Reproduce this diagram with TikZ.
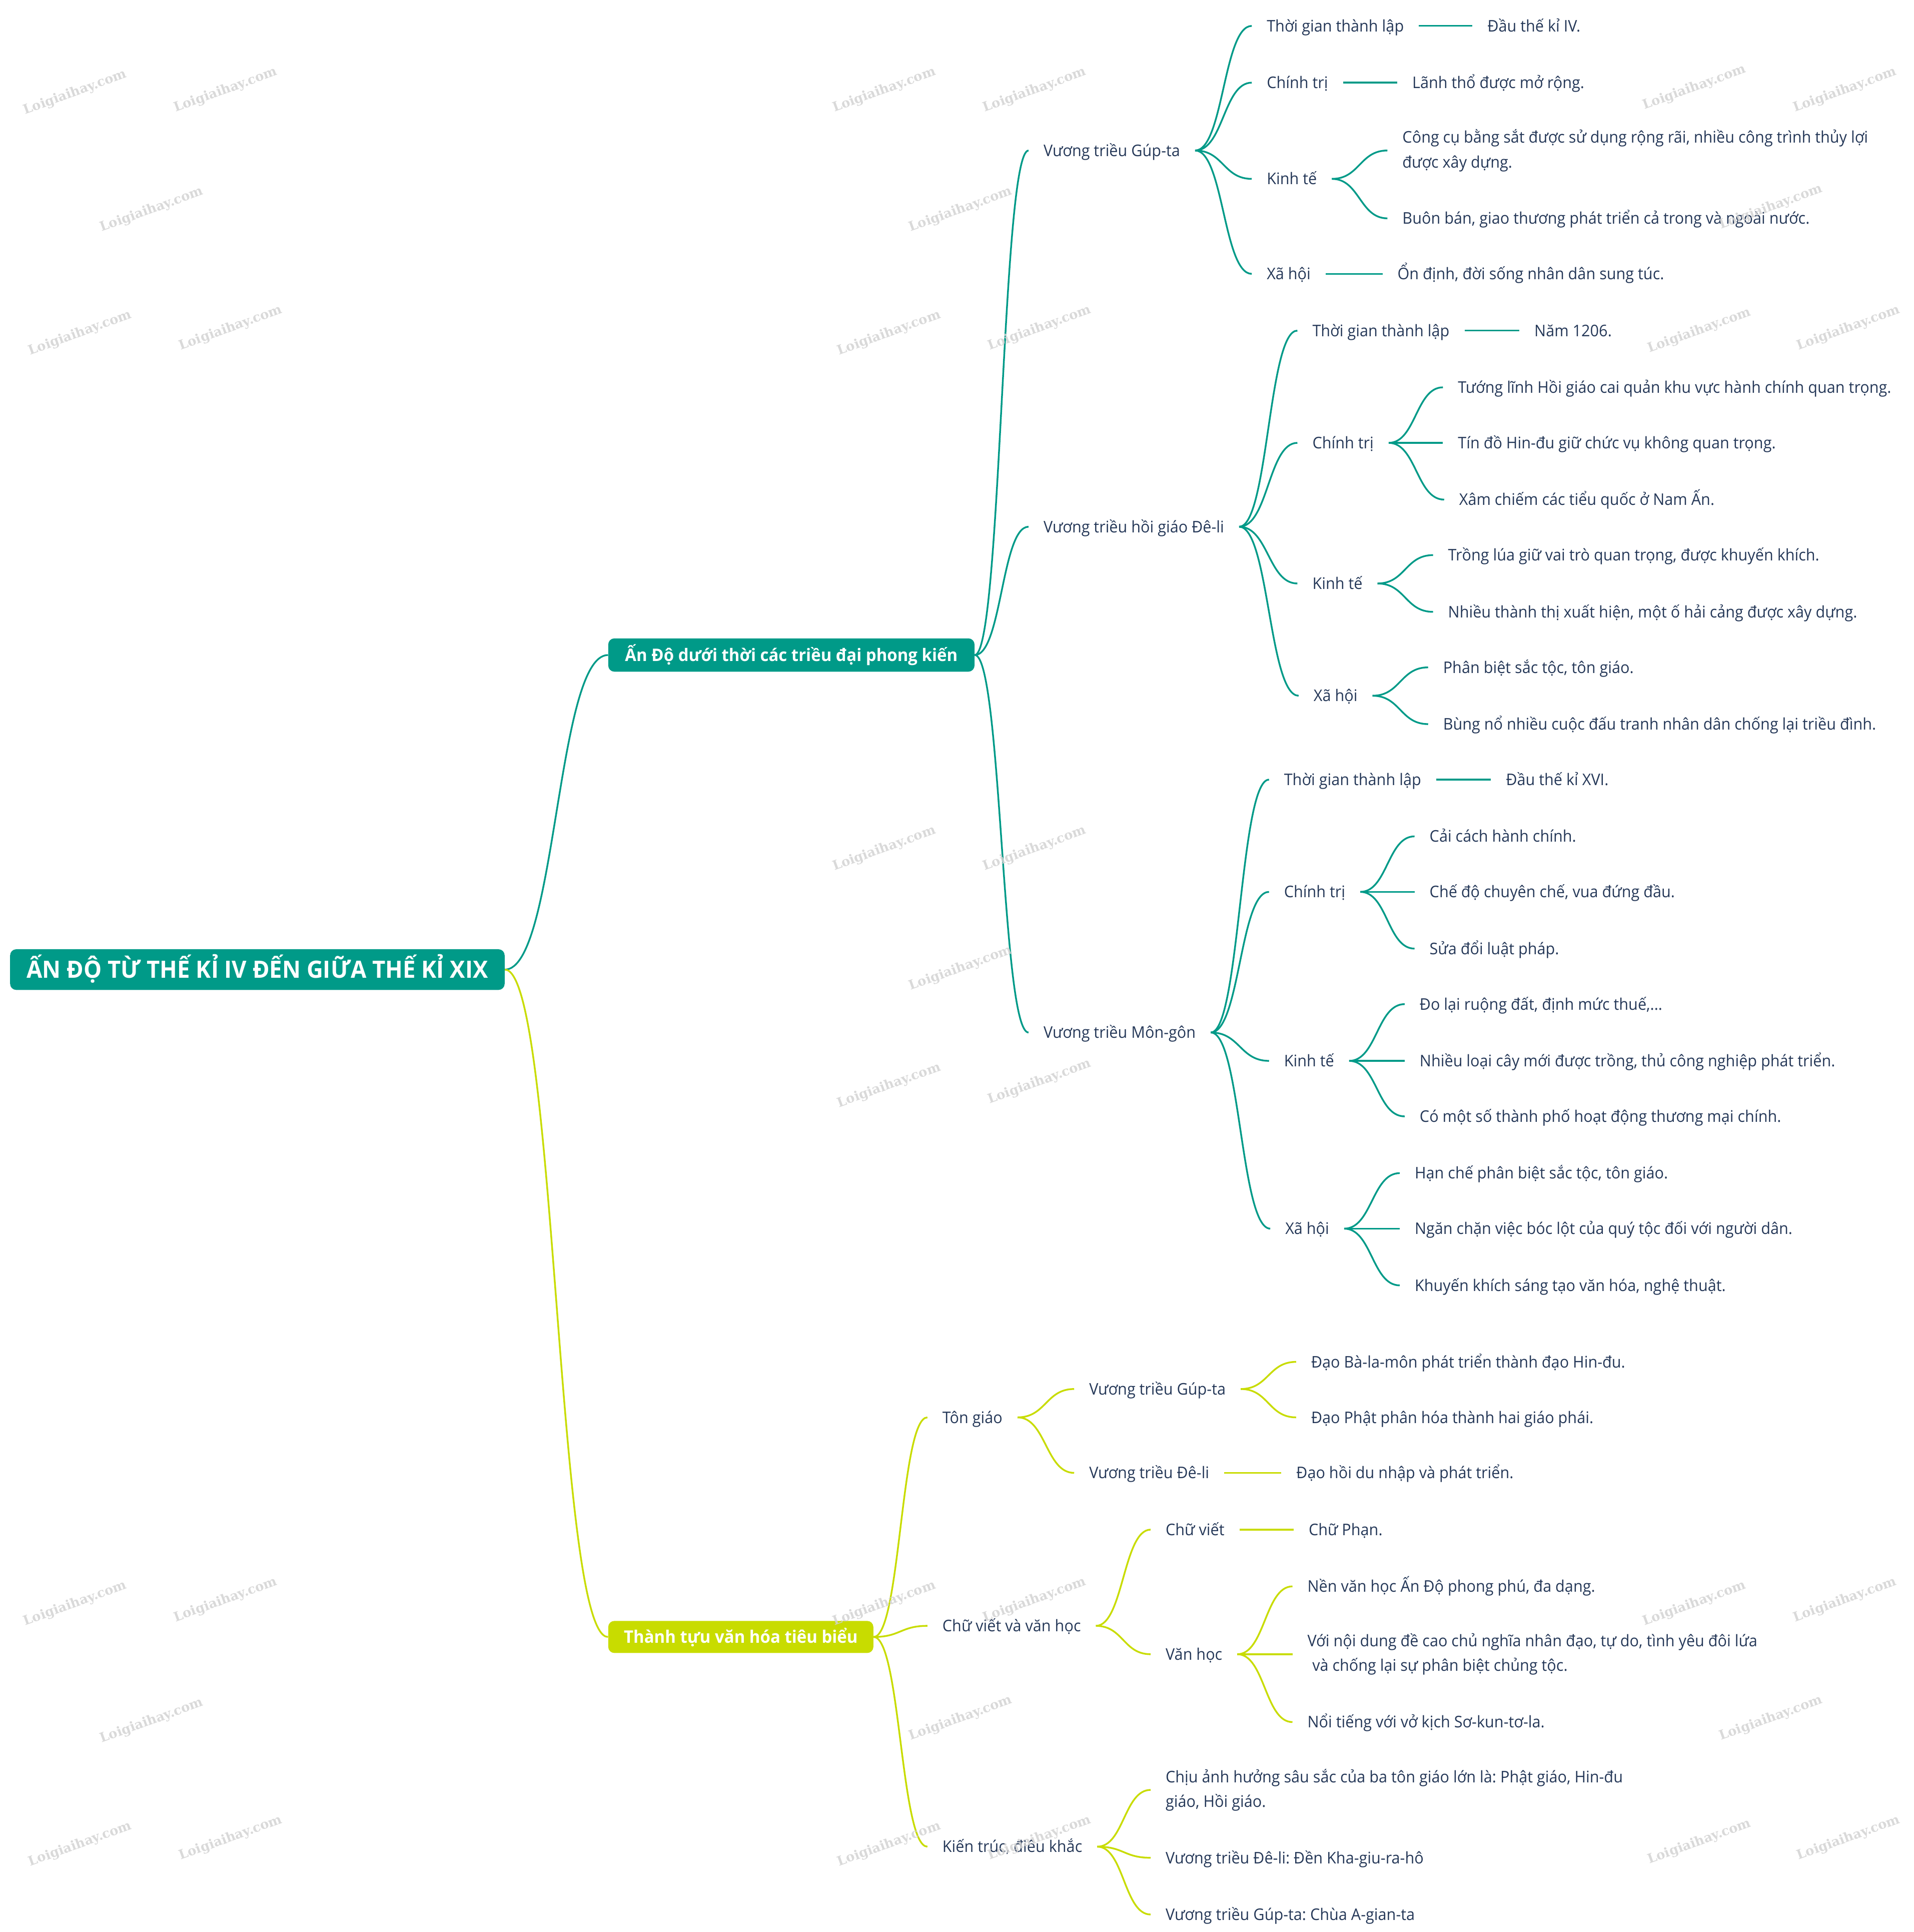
\documentclass[tikz,border=0pt]{standalone}
\usepackage{fontspec}
\setmainfont{Open Sans}[FakeStretch=0.955]
\newfontfamily\wmfont{DejaVu Serif}
\usetikzlibrary{calc}
\definecolor{teal1}{HTML}{009A88}
\definecolor{lime1}{HTML}{C8DC00}
\definecolor{ink}{HTML}{253858}
\definecolor{wmc}{HTML}{D2D2D2}
\frenchspacing
\newcommand\mainsz{\fontsize{13}{20}\selectfont}
\newcommand\mmc[3]{\draw[#1] let \p1=(#2), \p2=(#3) in (\p1) .. controls ({0.5*\x1+0.5*\x2},\y1) and ({0.5*\x1+0.5*\x2},\y2) .. (\p2);}
\tikzset{
  leaf/.style={anchor=west, inner xsep=12pt, inner ysep=0pt, text=ink, font=\mainsz, text height=10.3pt, text depth=1pt},
  multi/.style={anchor=west, inner xsep=12pt, inner ysep=0pt, text=ink, font=\mainsz, align=left},
  tl/.style={draw=teal1, line width=1.4pt},
  ll/.style={draw=lime1, line width=1.4pt},
  box/.style={anchor=west, rounded corners=5pt, inner sep=0pt, text=white},
  wmk/.style={rotate=20, text=wmc, opacity=0.85, font=\wmfont\bfseries\fontsize{10.5}{11}\selectfont}
}
\begin{document}
\begin{tikzpicture}[x=1pt,y=-1pt]
\useasboundingbox (0,0) rectangle (1552,1566.2);
% main boxes
\node[box, fill=teal1, minimum width=401pt, minimum height=33pt, font=\bfseries\fontsize{19.3}{22}\selectfont, text height=13.6pt, text depth=0pt] (root) at (8,786) {ẤN ĐỘ TỪ THẾ KỈ IV ĐẾN GIỮA THẾ KỈ XIX};
\node[box, fill=teal1, minimum width=297pt, minimum height=27pt, font=\bfseries\fontsize{14}{16}\selectfont, text height=10pt, text depth=0pt] (b2) at (493,531) {Ấn Độ dưới thời các triều đại phong kiến};
\node[box, fill=lime1, minimum width=215pt, minimum height=26pt, font=\bfseries\fontsize{14}{16}\selectfont, text height=10pt, text depth=0pt] (b3) at (493,1327) {Thành tựu văn hóa tiêu biểu};
% dynasties
\node[leaf] (g) at (834,122) {Vương triều Gúp-ta};
\node[leaf] (d) at (834,427) {Vương triều hồi giáo Đê-li};
\node[leaf] (m) at (834,837) {Vương triều Môn-gôn};
% Gupta
\node[leaf] (g1) at (1015,21) {Thời gian thành lập};
\node[leaf] (g1a) at (1194,21) {Đầu thế kỉ IV.};
\node[leaf] (g2) at (1015,67) {Chính trị};
\node[leaf] (g2a) at (1133,67) {Lãnh thổ được mở rộng.};
\node[leaf] (g3) at (1015,145) {Kinh tế};
\node[multi] (g3a) at (1125,122) {Công cụ bằng sắt được sử dụng rộng rãi, nhiều công trình thủy lợi\\được xây dựng.};
\node[leaf] (g3b) at (1125,177) {Buôn bán, giao thương phát triển cả trong và ngoài nước.};
\node[leaf] (g4) at (1015,222) {Xã hội};
\node[leaf] (g4a) at (1121,222) {Ổn định, đời sống nhân dân sung túc.};
% Delhi
\node[leaf] (d1) at (1052,268) {Thời gian thành lập};
\node[leaf] (d1a) at (1232,268) {Năm 1206.};
\node[leaf] (d2) at (1052,359) {Chính trị};
\node[leaf] (d2a) at (1170,314) {Tướng lĩnh Hồi giáo cai quản khu vực hành chính quan trọng.};
\node[leaf] (d2b) at (1170,359) {Tín đồ Hin-đu giữ chức vụ không quan trọng.};
\node[leaf] (d2c) at (1171,405) {Xâm chiếm các tiểu quốc ở Nam Ấn.};
\node[leaf] (d3) at (1052,473) {Kinh tế};
\node[leaf] (d3a) at (1162,450) {Trồng lúa giữ vai trò quan trọng, được khuyến khích.};
\node[leaf] (d3b) at (1162,496) {Nhiều thành thị xuất hiện, một ố hải cảng được xây dựng.};
\node[leaf] (d4) at (1053,564) {Xã hội};
\node[leaf] (d4a) at (1158,541) {Phân biệt sắc tộc, tôn giáo.};
\node[leaf] (d4b) at (1158,587) {Bùng nổ nhiều cuộc đấu tranh nhân dân chống lại triều đình.};
% Mughal
\node[leaf] (m1) at (1029,632) {Thời gian thành lập};
\node[leaf] (m1a) at (1209,632) {Đầu thế kỉ XVI.};
\node[leaf] (m2) at (1029,723) {Chính trị};
\node[leaf] (m2a) at (1147,678) {Cải cách hành chính.};
\node[leaf] (m2b) at (1147,723) {Chế độ chuyên chế, vua đứng đầu.};
\node[leaf] (m2c) at (1147,769) {Sửa đổi luật pháp.};
\node[leaf] (m3) at (1029,860) {Kinh tế};
\node[leaf] (m3a) at (1139,814) {Đo lại ruộng đất, định mức thuế,...};
\node[leaf] (m3b) at (1139,860) {Nhiều loại cây mới được trồng, thủ công nghiệp phát triển.};
\node[leaf] (m3c) at (1139,905) {Có một số thành phố hoạt động thương mại chính.};
\node[leaf] (m4) at (1030,996) {Xã hội};
\node[leaf] (m4a) at (1135,951) {Hạn chế phân biệt sắc tộc, tôn giáo.};
\node[leaf] (m4b) at (1135,996) {Ngăn chặn việc bóc lột của quý tộc đối với người dân.};
\node[leaf] (m4c) at (1135,1042) {Khuyến khích sáng tạo văn hóa, nghệ thuật.};
% culture
\node[leaf] (t) at (752,1149) {Tôn giáo};
\node[leaf] (t1) at (871,1126) {Vương triều Gúp-ta};
\node[leaf] (t1a) at (1051,1104) {Đạo Bà-la-môn phát triển thành đạo Hin-đu.};
\node[leaf] (t1b) at (1051,1149) {Đạo Phật phân hóa thành hai giáo phái.};
\node[leaf] (t2) at (871,1194) {Vương triều Đê-li};
\node[leaf] (t2a) at (1039,1194) {Đạo hồi du nhập và phát triển.};
\node[leaf] (c) at (752,1318) {Chữ viết và văn học};
\node[leaf] (c1) at (933,1240) {Chữ viết};
\node[leaf] (c1a) at (1049,1240) {Chữ Phạn.};
\node[leaf] (c2) at (933,1341) {Văn học};
\node[leaf] (c2a) at (1048,1286) {Nền văn học Ấn Độ phong phú, đa dạng.};
\node[multi] (c2b) at (1048,1341) {Với nội dung đề cao chủ nghĩa nhân đạo, tự do, tình yêu đôi lứa\\\hspace*{0.3em}và chống lại sự phân biệt chủng tộc.};
\node[leaf] (c2c) at (1048,1396) {Nổi tiếng với vở kịch Sơ-kun-tơ-la.};
\node[leaf] (k) at (752,1497) {Kiến trúc, điêu khắc};
\node[multi] (k1) at (933,1451) {Chịu ảnh hưởng sâu sắc của ba tôn giáo lớn là: Phật giáo, Hin-đu\\giáo, Hồi giáo.};
\node[leaf] (k2) at (933,1506) {Vương triều Đê-li: Đền Kha-giu-ra-hô};
\node[leaf] (k3) at (933,1552) {Vương triều Gúp-ta: Chùa A-gian-ta};
% connectors teal
\mmc{tl}{root.east}{b2.west}
\mmc{ll}{root.east}{b3.west}
\mmc{tl}{b2.east}{g.west}
\mmc{tl}{b2.east}{d.west}
\mmc{tl}{b2.east}{m.west}
\mmc{tl}{g.east}{g1.west}
\mmc{tl}{g.east}{g2.west}
\mmc{tl}{g.east}{g3.west}
\mmc{tl}{g.east}{g4.west}
\draw[tl] (g1.east) -- (g1a.west);
\draw[tl] (g2.east) -- (g2a.west);
\mmc{tl}{g3.east}{g3a.west}
\mmc{tl}{g3.east}{g3b.west}
\draw[tl] (g4.east) -- (g4a.west);
\mmc{tl}{d.east}{d1.west}
\mmc{tl}{d.east}{d2.west}
\mmc{tl}{d.east}{d3.west}
\mmc{tl}{d.east}{d4.west}
\draw[tl] (d1.east) -- (d1a.west);
\mmc{tl}{d2.east}{d2a.west}
\mmc{tl}{d2.east}{d2b.west}
\mmc{tl}{d2.east}{d2c.west}
\mmc{tl}{d3.east}{d3a.west}
\mmc{tl}{d3.east}{d3b.west}
\mmc{tl}{d4.east}{d4a.west}
\mmc{tl}{d4.east}{d4b.west}
\mmc{tl}{m.east}{m1.west}
\mmc{tl}{m.east}{m2.west}
\mmc{tl}{m.east}{m3.west}
\mmc{tl}{m.east}{m4.west}
\draw[tl] (m1.east) -- (m1a.west);
\mmc{tl}{m2.east}{m2a.west}
\mmc{tl}{m2.east}{m2b.west}
\mmc{tl}{m2.east}{m2c.west}
\mmc{tl}{m3.east}{m3a.west}
\mmc{tl}{m3.east}{m3b.west}
\mmc{tl}{m3.east}{m3c.west}
\mmc{tl}{m4.east}{m4a.west}
\mmc{tl}{m4.east}{m4b.west}
\mmc{tl}{m4.east}{m4c.west}
% connectors lime
\mmc{ll}{b3.east}{t.west}
\mmc{ll}{b3.east}{c.west}
\mmc{ll}{b3.east}{k.west}
\mmc{ll}{t.east}{t1.west}
\mmc{ll}{t.east}{t2.west}
\mmc{ll}{t1.east}{t1a.west}
\mmc{ll}{t1.east}{t1b.west}
\draw[ll] (t2.east) -- (t2a.west);
\mmc{ll}{c.east}{c1.west}
\mmc{ll}{c.east}{c2.west}
\draw[ll] (c1.east) -- (c1a.west);
\mmc{ll}{c2.east}{c2a.west}
\mmc{ll}{c2.east}{c2b.west}
\mmc{ll}{c2.east}{c2c.west}
\mmc{ll}{k.east}{k1.west}
\mmc{ll}{k.east}{k2.west}
\mmc{ll}{k.east}{k3.west}
% watermarks
\foreach \wx/\wy [count=\i] in {61/75,183/73,717/73,839/73,1374/71,1496/73,
  123/170,779/170,1436/168,
  65/270,187/266,721/270,843/266,1378/268,1499/266,
  717/688,839/688,779/785,721/880,843/877,
  61/1300,183/1297,717/1300,839/1297,1374/1300,1496/1297,
  123/1395,779/1393,1436/1393,
  65/1495,187/1490,721/1495,843/1490,1378/1493,1499/1490}
  {\node[wmk] (w\i) at (\wx,\wy) {Loigiaihay.com};}
\end{tikzpicture}
\end{document}
